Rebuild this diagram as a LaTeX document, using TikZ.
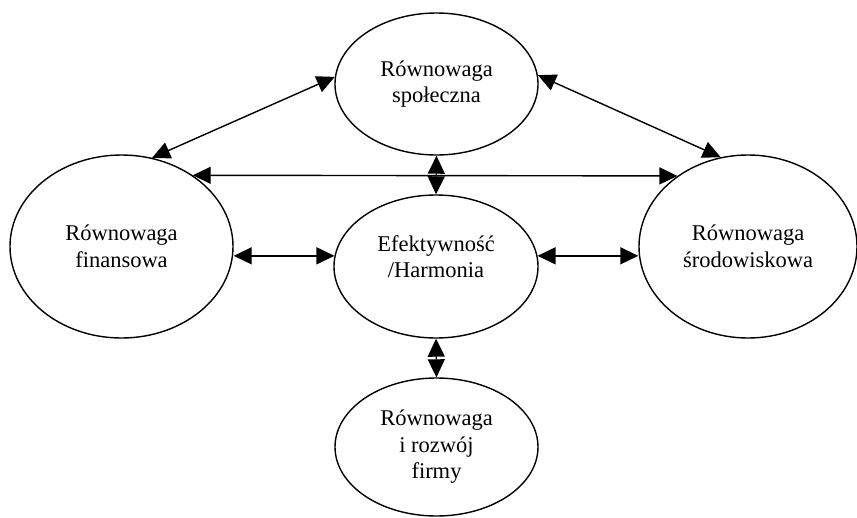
\documentclass[tikz,border=0pt]{standalone}
\usepackage{fontspec}
\setmainfont{Liberation Serif}
\usetikzlibrary{arrows.meta,shapes.geometric}

\begin{document}
\begin{tikzpicture}[x=1pt, y=-1pt,
		balancetext/.style={align=center, inner sep=0pt, font=\fontsize{22.5}{26.5}\selectfont},
		balance/.style={draw, ellipse, line width=1.4pt, balancetext},
		link/.style={line width=1.4pt, {Triangle[length=18pt,width=17pt]}-{Triangle[length=18pt,width=17pt]}}]
		%%%%% START %%%%%
		
		\useasboundingbox (0, 0) rectangle (857, 517);
		
		\node[balance, minimum width=203, minimum height=142] (spol) at (436.5, 84) {Równowaga\\społeczna};
		\node[balance, minimum width=223, minimum height=183] (fin) at (121.5, 246.5) {Równowaga\\finansowa};
		\node[balance, minimum width=204, minimum height=143] (efek) at (436, 266.5) {};
		\node[balancetext] (efektxt) at ([yshift=10pt]efek.center) {Efektywność\\/Harmonia};
		\node[balance, minimum width=218, minimum height=183] (srod) at (748, 246.5) {Równowaga\\środowiskowa};
		\node[balance, minimum width=203, minimum height=138] (firma) at (436.5, 447) {Równowaga\\i rozwój\\firmy};
		
		\draw[link] (spol.176) -- (fin.71);
		\draw[link] (spol.5) -- (srod.107);
		\draw[link] (fin.45) -- (srod.135);
		
		\draw[link] (fin.east |- efek.174) -- (efek.174);
		\draw[link] (efek.6) -- (efek.6 -| srod.west);
		
		\draw[link] (spol.south) -- (efek.north);
		\draw[link] (efek.south) -- (firma.north);
		
		%%%%% END %%%%%
	\end{tikzpicture}
\end{document}
